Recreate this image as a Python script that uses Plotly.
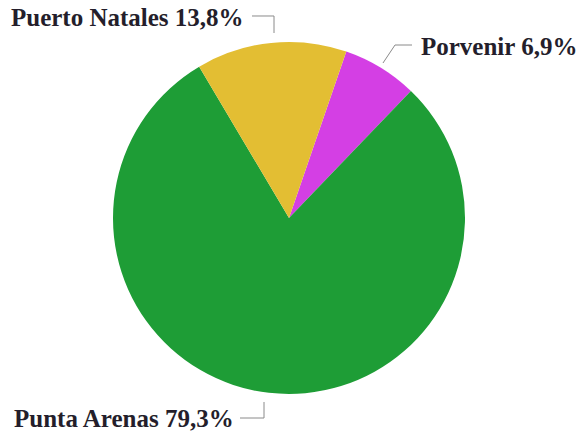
import plotly.graph_objects as go

W, H = 579, 437

# data
comunas = ["Porvenir", "Punta Arenas", "Puerto Natales"]
porcentajes = [6.9, 79.3, 13.8]
colores = ["#d43fe4", "#1e9d36", "#e3be33"]

fig = go.Figure()
fig.add_trace(go.Pie(labels=comunas, values=porcentajes,
                     marker=dict(colors=colores, line=dict(width=0)),
                     sort=False, direction="clockwise", rotation=19,
                     textinfo="none", hoverinfo="label+percent",
                     domain=dict(x=[(289 - 176) / W, (289 + 176) / W],
                                 y=[(H - 218 - 176) / H, (H - 218 + 176) / H])))


def px(x, y):
    return x / W, 1 - y / H


# label placement in pixels: (x, y, xanchor)
pos = {"Porvenir": (419, 47, "left"),
       "Punta Arenas": (236, 418, "right"),
       "Puerto Natales": (246, 18, "right")}
leaders = {"Porvenir": [(383, 63), (395, 45), (412, 45)],
           "Punta Arenas": [(240, 418), (264, 418), (264, 402)],
           "Puerto Natales": [(252, 16), (274, 16), (274, 33)]}

for name, val in zip(comunas, porcentajes):
    x, y, anc = pos[name]
    ax, ay = px(x, y)
    fig.add_annotation(x=ax, y=ay, xref="paper", yref="paper",
                       text="<b>%s %s%%</b>" % (name, str(val).replace(".", ",")),
                       showarrow=False, xanchor=anc, yanchor="middle",
                       font=dict(family="Liberation Serif", size=25, color="#241e2b"))
    pts = [px(a, b) for a, b in leaders[name]]
    path = "M " + " L ".join("%f,%f" % p for p in pts)
    fig.add_shape(type="path", path=path, xref="paper", yref="paper",
                  line=dict(color="#8a8a8a", width=1))

fig.update_layout(width=W, height=H, margin=dict(l=0, r=0, t=0, b=0),
                  showlegend=False, paper_bgcolor="white", plot_bgcolor="white")
fig.write_html("out.html", config={"displayModeBar": False},
               post_script="document.body.style.margin='0';")
